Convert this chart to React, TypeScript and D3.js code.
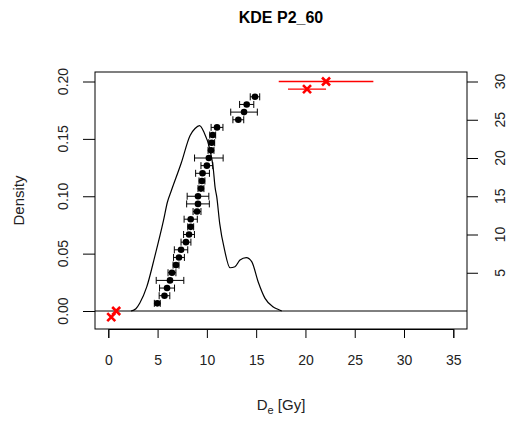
import React, { useEffect, useRef } from 'react';
import * as d3 from 'd3';

// De values (sorted) with their standard errors, aliquot index = position + 1
const deValues = [4.97, 5.7, 5.96, 6.26, 6.46, 6.87, 7.17, 7.38, 7.88, 8.19, 8.36, 8.36, 9.0, 9.1,
  9.1, 9.4, 9.5, 9.56, 10.0, 10.2, 10.42, 10.49, 10.59, 11.03, 13.19, 13.77, 14.04, 14.88];
const deErrors = [0.3, 0.54, 0.76, 1.4, 0.4, 0.3, 0.55, 0.68, 0.5, 0.55, 0.3, 0.67, 0.4, 1.15,
  1.1, 0.3, 0.3, 0.7, 0.6, 1.45, 0.3, 0.3, 0.3, 0.6, 0.55, 1.35, 0.72, 0.48];

// values flagged in red
const outlierDe = [0.3, 0.8, 20.16, 22.09];
const outlierIndex = [-0.8, 0, 29, 30];
const outlierErr = [0, 0, 1.93, 4.8];

// kernel density estimate
const kdeX = [2.3, 2.8, 3.2, 3.9, 4.7, 5.6, 6.0, 6.4, 7.4, 8.3, 8.8, 9.25, 9.7, 10.3, 10.65, 10.83,
  11.0, 11.3, 11.8, 12.35, 12.85, 13.36, 14.0, 14.55, 15.2, 15.9, 16.7, 17.2, 17.6];
const kdeY = [0, 0.002, 0.007, 0.021, 0.047, 0.079, 0.095, 0.105, 0.129, 0.153, 0.159, 0.1615,
  0.156, 0.141, 0.124, 0.108, 0.0996, 0.0764, 0.053, 0.0377, 0.0386, 0.0444, 0.0465, 0.043,
  0.0255, 0.011, 0.0037, 0.0015, 0];

const xTicks = [0, 5, 10, 15, 20, 25, 30, 35];
const densityTicks = [0, 0.05, 0.1, 0.15, 0.2];
const indexTicks = [5, 10, 15, 20, 25, 30];

const App = () => {
  const ref = useRef(null);

  useEffect(() => {
    const svg = d3.select(ref.current);
    svg.selectAll('*').remove();

    const box = { left: 95, right: 467, top: 72, bottom: 329 };
    const font = 'Liberation Sans, Arial, sans-serif';

    const x = d3.scaleLinear().domain([0, 35]).range([108.3, 453.3]);
    const y = d3.scaleLinear().domain([0, 0.2]).range([311, 81.5]);
    const yi = d3.scaleLinear().domain([0, 30]).range([311, 81.5]);

    // plot box
    svg.append('rect')
      .attr('x', box.left).attr('y', box.top)
      .attr('width', box.right - box.left).attr('height', box.bottom - box.top)
      .attr('fill', 'none').attr('stroke', '#000').attr('stroke-width', 1);

    // bottom axis
    const xAxis = svg.append('g')
      .attr('transform', `translate(0,${box.bottom})`)
      .call(d3.axisBottom(x).tickValues(xTicks).tickSize(9).tickPadding(17).tickFormat(d3.format('d')));
    xAxis.select('.domain').attr('stroke', '#000');
    xAxis.selectAll('text').attr('font-family', font).attr('font-size', 14).attr('fill', '#222');

    // left axis (density)
    const yAxis = svg.append('g')
      .attr('transform', `translate(${box.left},0)`)
      .call(d3.axisLeft(y).tickValues(densityTicks).tickSize(12).tickFormat(d3.format('.2f')));
    yAxis.select('.domain').remove();
    yAxis.selectAll('text').remove();
    densityTicks.forEach(t => {
      svg.append('text')
        .attr('transform', `translate(68,${y(t)}) rotate(-90)`)
        .attr('text-anchor', 'middle')
        .attr('font-family', font).attr('font-size', 14).attr('fill', '#222')
        .text(d3.format('.2f')(t));
    });

    // right axis (index)
    const rAxis = svg.append('g')
      .attr('transform', `translate(${box.right},0)`)
      .call(d3.axisRight(yi).tickValues(indexTicks).tickSize(11));
    rAxis.select('.domain').remove();
    rAxis.selectAll('text').remove();
    indexTicks.forEach(t => {
      svg.append('text')
        .attr('transform', `translate(505,${yi(t)}) rotate(-90)`)
        .attr('text-anchor', 'middle')
        .attr('font-family', font).attr('font-size', 14).attr('fill', '#222')
        .text(t);
    });

    // zero line
    svg.append('line')
      .attr('x1', box.left).attr('x2', box.right)
      .attr('y1', y(0)).attr('y2', y(0))
      .attr('stroke', '#000');

    // KDE curve
    const line = d3.line()
      .x((d, i) => x(kdeX[i]))
      .y(d => y(d))
      .curve(d3.curveMonotoneX);
    svg.append('path')
      .datum(kdeY)
      .attr('fill', 'none').attr('stroke', '#000').attr('stroke-width', 1.2)
      .attr('d', line);

    // error bars
    const bars = svg.append('g');
    deValues.forEach((v, i) => {
      const cy = yi(i + 1);
      const x1 = x(v - deErrors[i]);
      const x2 = x(v + deErrors[i]);
      bars.append('line').attr('x1', x1).attr('x2', x2).attr('y1', cy).attr('y2', cy).attr('stroke', '#000');
      [x1, x2].forEach(cx => {
        bars.append('line').attr('x1', cx).attr('x2', cx).attr('y1', cy - 3.5).attr('y2', cy + 3.5).attr('stroke', '#000');
      });
    });

    // points
    svg.selectAll('.dot')
      .data(deValues)
      .enter().append('circle')
      .attr('class', 'dot')
      .attr('cx', d => x(d))
      .attr('cy', (d, i) => yi(i + 1))
      .attr('r', 3.3)
      .attr('fill', '#000');

    // red outliers
    outlierDe.forEach((v, i) => {
      const cx = x(v);
      const cy = yi(outlierIndex[i]);
      if (outlierErr[i] > 0) {
        svg.append('line')
          .attr('x1', x(v - outlierErr[i])).attr('x2', x(v + outlierErr[i]))
          .attr('y1', cy).attr('y2', cy)
          .attr('stroke', '#ff0000').attr('stroke-width', 1.3);
      }
      const s = 4;
      svg.append('path')
        .attr('d', `M${cx - s},${cy - s}L${cx + s},${cy + s}M${cx - s},${cy + s}L${cx + s},${cy - s}`)
        .attr('stroke', '#ff0000').attr('stroke-width', 2.6).attr('fill', 'none');
    });

    // title and labels
    svg.append('text')
      .attr('x', (box.left + box.right) / 2).attr('y', 23)
      .attr('text-anchor', 'middle')
      .attr('font-family', font).attr('font-size', 16).attr('font-weight', 'bold')
      .text('KDE P2_60');

    svg.append('text')
      .attr('transform', `translate(24,${(box.top + box.bottom) / 2}) rotate(-90)`)
      .attr('text-anchor', 'middle')
      .attr('font-family', font).attr('font-size', 15).attr('fill', '#222')
      .text('Density');

    const xl = svg.append('text')
      .attr('x', (box.left + box.right) / 2).attr('y', 410)
      .attr('text-anchor', 'middle')
      .attr('font-family', font).attr('font-size', 15).attr('fill', '#222');
    xl.append('tspan').text('D');
    xl.append('tspan').attr('dy', 4).attr('font-size', 11).text('e');
    xl.append('tspan').attr('dy', -4).text(' [Gy]');
  }, []);

  return (
    <svg
      ref={ref}
      width={511}
      height={421}
      style={{ position: 'absolute', left: 0, top: 0, background: '#fff' }}
    />
  );
};

export default App;
